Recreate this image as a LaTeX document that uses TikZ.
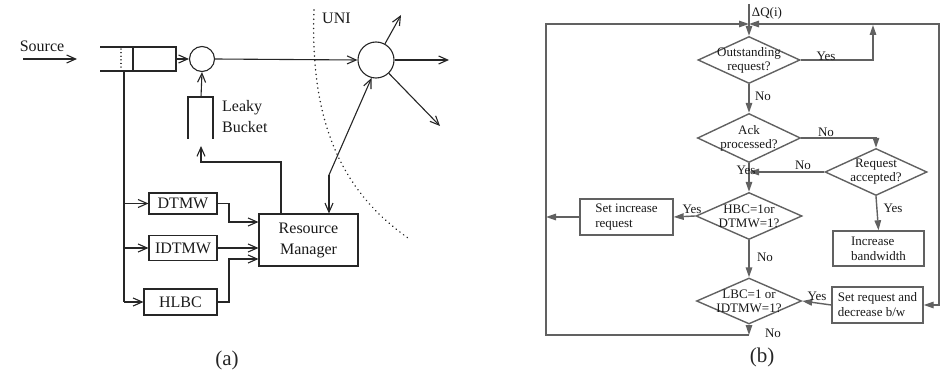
\documentclass[tikz,border=0pt]{standalone}
\usepackage{fontspec}
\setmainfont{Liberation Serif}
\usetikzlibrary{arrows.meta,shapes.geometric}
\begin{document}
\begin{tikzpicture}[x=1pt,y=-1pt,
  aln/.style={draw=black!85,line width=1.1pt},
  aarr/.style={aln,-{Straight Barb[length=9pt,width=8pt]}},
  atxt/.style={font=\fontsize{16}{21}\selectfont,text=black!90,inner sep=0pt},
  abox/.style={aln,draw,rectangle,inner sep=0pt,font=\fontsize{16}{21}\selectfont,text=black!90},
  bln/.style={draw=black!62,line width=1.4pt},
  barr/.style={bln,-{Triangle[length=10pt,width=6.5pt]}},
  btxt/.style={font=\fontsize{13}{15}\selectfont,text=black!90,inner sep=0pt},
  bbox/.style={bln,draw,rectangle,inner sep=0pt,align=left,font=\fontsize{13}{15}\selectfont,text=black!90},
  dia/.style={bln,draw,diamond,inner sep=0pt},
  dtxt/.style={font=\fontsize{13}{14}\selectfont,text=black!90,inner sep=0pt,align=center},
  captxt/.style={font=\fontsize{21}{24}\selectfont,text=black!85,inner sep=0pt}
]
\useasboundingbox (0,0) rectangle (946,377);

% ================= (a) =================
\coordinate (s0) at (23,59);
\coordinate (s1) at (77,59);
\draw[aarr] (s0) -- (s1);
\node[atxt] (srclbl) at (42,46) {Source};

% queue
\draw[aln] (100,47) -- (176,47) -- (176,71) -- (100,71);
\draw[aln] (133,47) -- (133,71);
\draw[aln,line cap=round,dash pattern=on 0.1pt off 3.5pt,line width=1.3pt] (121,49) -- (121,70);
\coordinate (qout) at (176,59);
\coordinate (qbot) at (124,71);

\node[circle,aln,draw,minimum size=25pt,inner sep=0pt] (c1) at (202,59) {};
\node[circle,aln,draw,minimum size=36pt,inner sep=0pt] (c2) at (376,60) {};
\draw[aarr] (qout) -- (c1.west);
\draw[aarr] (c1.east) -- (c2.west);
\coordinate (o1) at (401,15);
\coordinate (o2) at (449,60);
\coordinate (o3) at (440,126);
\draw[aarr] (c2.61) -- (o1);
\draw[aarr] (c2.east) -- (o2);
\draw[aarr] (c2.-46) -- (o3);

% leaky bucket
\draw[aln] (188,139) -- (188,97) -- (213,97) -- (213,139);
\coordinate (lbtop) at (201,97);
\draw[aarr] (lbtop) -- (c1.south);
\node[atxt,align=left,anchor=west,font=\fontsize{16}{21}\selectfont] (lblbl) at (222,117) {Leaky\\Bucket};

% UNI
\draw[draw=black!85,line width=1.6pt,line cap=round,dash pattern=on 0.1pt off 4.5pt] (314,10) .. controls (310,120) and (340,190) .. (408,238);
\node[atxt,anchor=west] (unilbl) at (322,18) {UNI};

% boxes
\node[abox,minimum width=68pt,minimum height=21pt] (dtmw) at (183,203.5) {DTMW};
\node[abox,minimum width=68pt,minimum height=25pt] (idtmw) at (183,248) {IDTMW};
\node[abox,minimum width=73pt,minimum height=26pt] (hlbc) at (180.5,302) {HLBC};
\node[abox,minimum width=99pt,minimum height=52pt,align=center] (rm) at (308.5,240) {Resource\\Manager};

% feed lines
\coordinate (vb) at (124,302);
\draw[aln] (qbot) -- (vb);
\draw[aarr] (dtmw.west -| qbot) -- (dtmw.west);
\draw[aarr] (idtmw.west -| qbot) -- (idtmw.west);
\draw[aarr] (vb) -- (hlbc.west);
\coordinate (j1) at (229,203.5);
\coordinate (j2) at (229,222);
\coordinate (j3) at (229,302);
\coordinate (j4) at (229,259);
\draw[aarr] (dtmw.east) -- (j1) -- (j2) -- (j2 -| rm.west);
\draw[aarr] (idtmw.east) -- (idtmw.east -| rm.west);
\draw[aarr] (hlbc.east) -- (j3) -- (j4) -- (j4 -| rm.west);

% RM -> leaky bucket
\coordinate (r1) at (281,162);
\coordinate (r2) at (201,162);
\coordinate (r3) at (201,146);
\draw[aarr] (rm.north -| r1) -- (r1) -- (r2) -- (r3);

% RM <-> switch
\coordinate (k) at (329,175);
\draw[aarr] (k) -- (c2.-104);
\draw[aarr] (k) -- (k |- rm.north);

\node[captxt] (capa) at (227,360) {(a)};

% ================= (b) =================
\node[dia,minimum width=102pt,minimum height=47pt,label={[dtxt]center:Outstanding\\request?}] (d1) at (749,60) {};
\node[dia,minimum width=103pt,minimum height=49pt,label={[dtxt]center:Ack\\processed?}] (d2) at (749,138) {};
\node[dia,minimum width=102pt,minimum height=47pt,label={[dtxt]center:Request\\accepted?}] (d3) at (876,172) {};
\node[dia,minimum width=106pt,minimum height=47pt,label={[dtxt]center:HBC=1or\\DTMW=1?}] (d4) at (749,216) {};
\node[dia,minimum width=105pt,minimum height=46pt,label={[dtxt]center:LBC=1 or\\IDTMW=1?}] (d5) at (749,301) {};

\node[bbox,minimum width=93pt,minimum height=36pt] (bx1) at (626.5,217) {Set increase\\request};
\node[bbox,minimum width=91pt,minimum height=35pt] (bx2) at (878.5,248.5) {Increase\\bandwidth};
\node[bbox,minimum width=91pt,minimum height=36pt] (bx3) at (877.5,305) {Set request and\\decrease b/w};

\coordinate (entry) at (749,4);
\coordinate (tl) at (546,24);
\coordinate (tc) at (749,24);
\coordinate (tr) at (939,24);
\coordinate (bl) at (546,335);
\coordinate (bc) at (749,335);
\coordinate (ry) at (873,60);
\coordinate (ryt) at (873,25);
\coordinate (rb) at (939,305);

\draw[bln] (entry) -- (tc);
\draw[barr] (tc) -- (d1.north);
\draw[barr] (bc) -- (bl) -- (tl) -- (tc);
\draw[barr] (rb) -- (tr) -- (tc);
\draw[barr] (tr) -- (rb) -- (bx3.east);
\draw[barr] (d1.east) -- (ry) -- (ryt);
\draw[barr] (d1.south) -- (d2.north);
\draw[barr] (d2.east) -| (d3.north);
\draw[barr] (d3.west) -- (d3.west -| d2.south);
\draw[barr] (d2.south) -- (d4.north);
\draw[barr] (d4.west) -- (bx1.east);
\draw[barr] (bx1.west) -- (bx1.west -| tl);
\draw[barr] (d3.south) -- (bx2.north);
\draw[barr] (d4.south) -- (d5.north);
\draw[barr] (bx3.west) -- (d5.east);
\draw[barr] (d5.south) -- (bc);

\node[btxt] (ldq) at (767,13) {ΔQ(i)};
\node[btxt] (l1) at (826,56) {Yes};
\node[btxt] (l2) at (763,96) {No};
\node[btxt] (l3) at (826,132) {No};
\node[btxt] (l4) at (803,165) {No};
\node[btxt] (l5) at (746,170) {Yes};
\node[btxt] (l6) at (692,209) {Yes};
\node[btxt] (l7) at (893,208) {Yes};
\node[btxt] (l8) at (765,257) {No};
\node[btxt] (l9) at (817,296) {Yes};
\node[btxt] (l10) at (773,333) {No};

\node[captxt] (capb) at (762,357) {(b)};
\end{tikzpicture}
\end{document}
